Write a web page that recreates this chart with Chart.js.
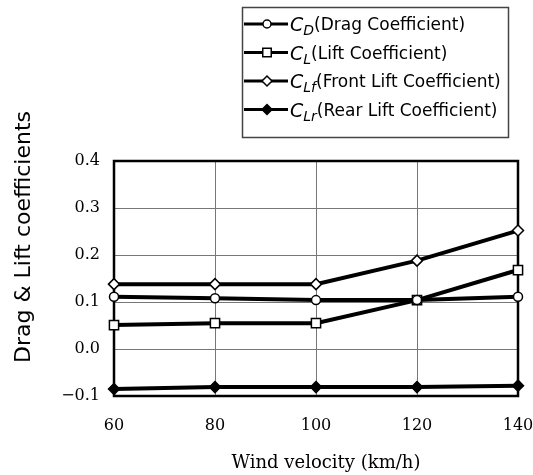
<!DOCTYPE html>
<html>
<head>
<meta charset="utf-8">
<script src="https://cdn.jsdelivr.net/npm/chart.js@4.4.1/dist/chart.umd.min.js"></script>
<style>
  html, body { margin: 0; padding: 0; background: #fff; }
  #wrap { width: 533px; height: 475px; position: relative; }
</style>
</head>
<body>
<div id="wrap"><canvas id="chart" width="533" height="475"></canvas></div>
<script>
// velocidades (km/h) e coeficientes
const velocidades = [60, 80, 100, 120, 140]
const cD  = [0.111, 0.108, 0.104, 0.104, 0.111]
const cL  = [0.051, 0.055, 0.055, 0.104, 0.168]
const cLf = [0.138, 0.138, 0.138, 0.188, 0.252]
const cLr = [-0.085, -0.081, -0.081, -0.081, -0.078]

const yTicks = [-0.1, 0.0, 0.1, 0.2, 0.3, 0.4]
const subs = ['D', 'L', 'Lf', 'Lr']
const nomes = ['(Drag Coefficient)', '(Lift Coefficient)', '(Front Lift Coefficient)', '(Rear Lift Coefficient)']
const estilos = ['circle', 'rect', 'rectRot', 'rectRot']
const raios = [4.5, 6.5, 5.5, 5.5]
const preenchimentos = ['#fff', '#fff', '#fff', '#000']

const series = [cD, cL, cLf, cLr]

const area = { left: 114, top: 161, right: 518, bottom: 396 }

function pontos(vals) {
  return vals.map((v, i) => ({ x: velocidades[i], y: v }))
}

const molduraPlugin = {
  id: 'moldura',
  beforeDatasetsDraw(chart) {
    const { ctx, chartArea: a } = chart
    ctx.save()
    ctx.strokeStyle = '#000'
    ctx.lineWidth = 2.5
    ctx.strokeRect(a.left, a.top, a.right - a.left, a.bottom - a.top)
    ctx.restore()
  },
  afterDraw(chart) {
    const { ctx } = chart
    ctx.save()

    // títulos dos eixos
    ctx.fillStyle = '#000'
    ctx.font = '18px "DejaVu Serif"'
    ctx.textAlign = 'center'
    ctx.textBaseline = 'middle'
    ctx.fillText('Wind velocity (km/h)', 326, 463)

    ctx.translate(24, 237)
    ctx.rotate(-Math.PI / 2)
    ctx.font = '22px "DejaVu Sans"'
    ctx.fillText('Drag & Lift coefficients', 0, 0)
    ctx.setTransform(1, 0, 0, 1, 0, 0)

    // legenda
    ctx.strokeStyle = '#444'
    ctx.lineWidth = 1.5
    ctx.strokeRect(242.5, 7.5, 266, 130)
    ctx.textAlign = 'left'
    ctx.textBaseline = 'alphabetic'
    subs.forEach((s, i) => {
      const y = 24 + i * 28.5
      ctx.strokeStyle = '#000'
      ctx.lineWidth = 3
      ctx.beginPath()
      ctx.moveTo(244, y)
      ctx.lineTo(288, y)
      ctx.stroke()
      ctx.fillStyle = preenchimentos[i]
      ctx.lineWidth = 1.5
      Chart.helpers.drawPoint(ctx, { pointStyle: estilos[i], radius: raios[i] - 0.5, rotation: 0, borderWidth: 1.5 }, 267, y)
      ctx.fillStyle = '#000'
      let x = 290
      ctx.font = 'italic 19px "DejaVu Sans"'
      ctx.fillText('C', x, y + 7)
      x += ctx.measureText('C').width
      ctx.font = 'italic 14px "DejaVu Sans"'
      ctx.fillText(s, x, y + 11)
      x += ctx.measureText(s).width
      ctx.font = '17px "DejaVu Sans"'
      ctx.fillText(nomes[i], x, y + 6)
    })
    ctx.restore()
  }
}

const ctx = document.getElementById('chart').getContext('2d')
new Chart(ctx, {
  type: 'line',
  data: {
    datasets: series.map((vals, i) => ({
      label: 'C' + subs[i],
      data: pontos(vals),
      borderColor: '#000',
      borderWidth: 4,
      backgroundColor: preenchimentos[i],
      pointStyle: estilos[i],
      pointRadius: raios[i],
      pointBorderColor: '#000',
      pointBorderWidth: 1.5,
      pointBackgroundColor: preenchimentos[i],
      tension: 0,
      clip: false
    }))
  },
  options: {
    responsive: false,
    animation: false,
    layout: { padding: { left: 0, top: area.top, right: 533 - area.right, bottom: 0 } },
    plugins: { legend: { display: false }, tooltip: { enabled: false } },
    scales: {
      x: {
        type: 'linear',
        min: 60,
        max: 140,
        afterBuildTicks: s => { s.ticks = velocidades.map(v => ({ value: v })) },
        afterFit: s => { s.height = 475 - area.bottom; s.paddingLeft = 0; s.paddingRight = 0 },
        grid: { color: '#777', lineWidth: 1, drawTicks: false },
        border: { display: false },
        ticks: { color: '#000', padding: 20, font: { family: 'DejaVu Serif', size: 16 } }
      },
      y: {
        min: -0.1,
        max: 0.4,
        afterBuildTicks: s => { s.ticks = yTicks.map(v => ({ value: v })) },
        afterFit: s => { s.width = area.left; s.paddingTop = 0; s.paddingBottom = 0 },
        grid: { color: '#777', lineWidth: 1, drawTicks: false },
        border: { display: false },
        ticks: {
          color: '#000',
          padding: 14,
          font: { family: 'DejaVu Serif', size: 16 },
          callback: v => (v < 0 ? '\u2212' : '') + Math.abs(v).toFixed(1)
        }
      }
    }
  },
  plugins: [molduraPlugin]
})
</script>
</body>
</html>
